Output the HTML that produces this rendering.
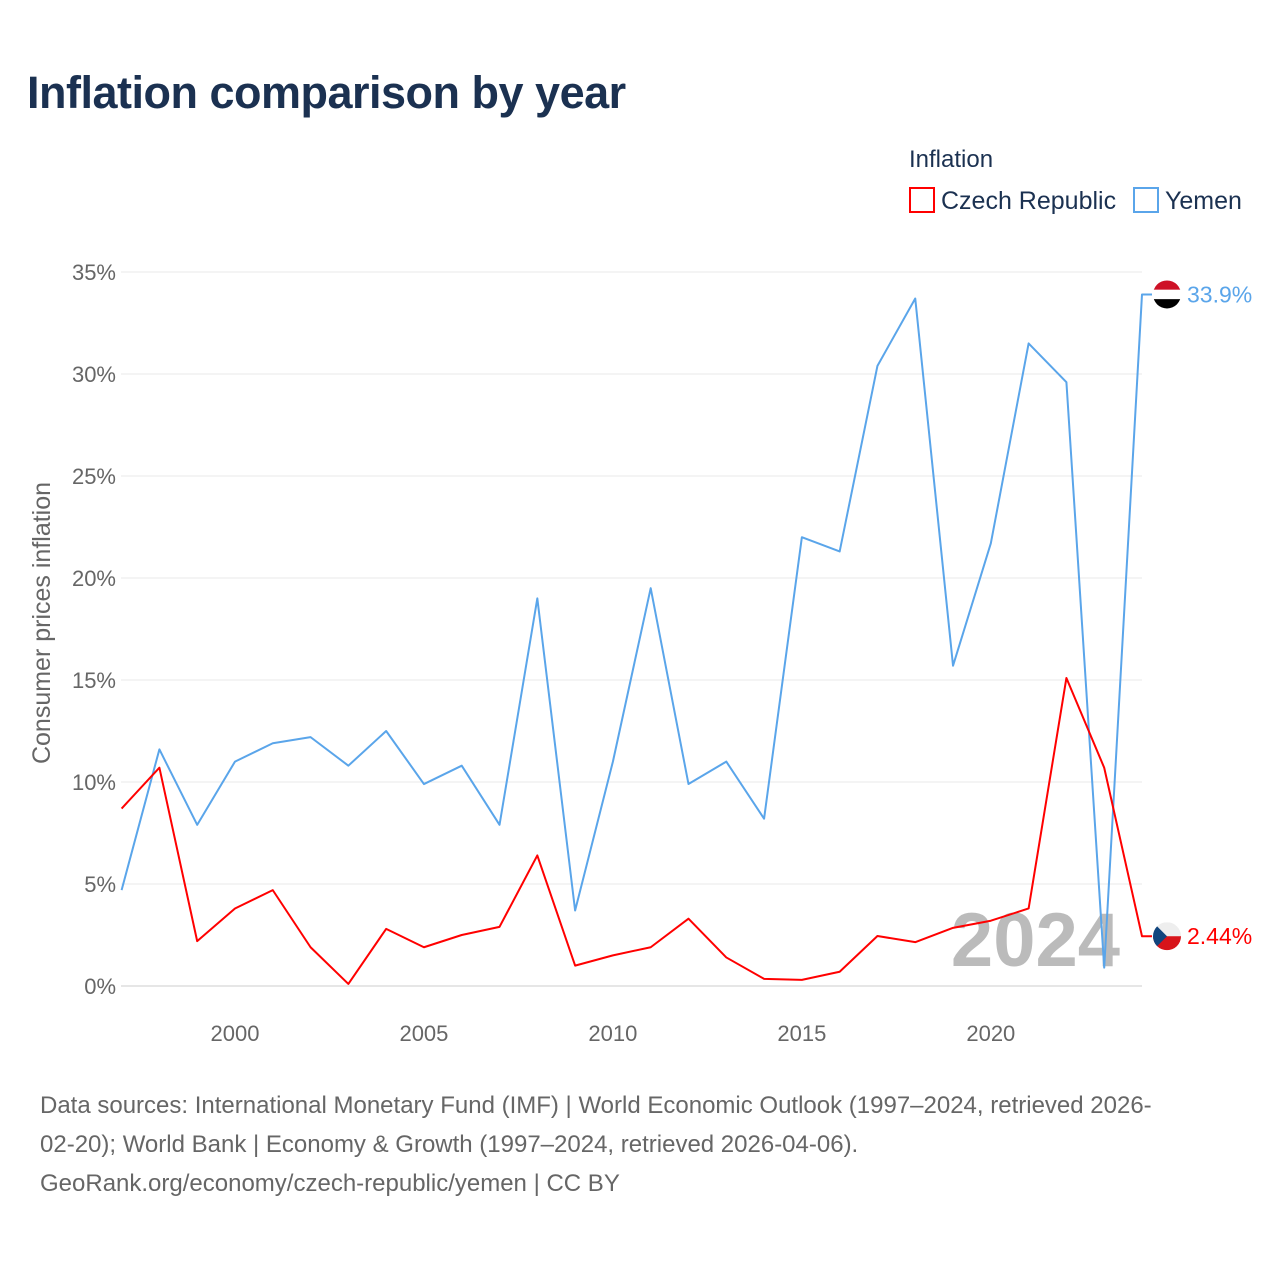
<!DOCTYPE html>
<html><head><meta charset="utf-8">
<style>
body{margin:0;background:#fff;font-family:"Liberation Sans",sans-serif;}
#wrap{position:relative;width:1280px;height:1280px;overflow:hidden;}
h1{position:absolute;left:27px;top:67px;margin:0;font-size:45px;font-weight:bold;color:#1b3151;letter-spacing:-0.5px;}
.src{position:absolute;left:40px;top:1086px;width:1230px;font-size:24px;line-height:39px;color:#666;white-space:nowrap;}
</style></head>
<body>
<div id="wrap">
<h1>Inflation comparison by year</h1>
<svg id="chart" width="1280" height="1280" style="position:absolute;left:0;top:0"></svg>
<div class="src">Data sources: International Monetary Fund (IMF) | World Economic Outlook (1997–2024, retrieved 2026-<br>02-20); World Bank | Economy &amp; Growth (1997–2024, retrieved 2026-04-06).<br>GeoRank.org/economy/czech-republic/yemen | CC BY</div>
</div>
<script>
const years=[1997,1998,1999,2000,2001,2002,2003,2004,2005,2006,2007,2008,2009,2010,2011,2012,2013,2014,2015,2016,2017,2018,2019,2020,2021,2022,2023,2024];
const yemenValues=[4.7,11.6,7.9,11.0,11.9,12.2,10.8,12.5,9.9,10.8,7.9,19.0,3.7,11.0,19.5,9.9,11.0,8.2,22.0,21.3,30.4,33.7,15.7,21.7,31.5,29.6,0.9,33.9];
const czechValues=[8.7,10.7,2.2,3.8,4.7,1.9,0.1,2.8,1.9,2.5,2.9,6.4,1.0,1.5,1.9,3.3,1.4,0.35,0.3,0.7,2.45,2.15,2.85,3.2,3.8,15.1,10.7,2.44];
const yTicks=[0,5,10,15,20,25,30,35];
const xTicks=[2000,2005,2010,2015,2020];
const NS="http://www.w3.org/2000/svg";
const svg=document.getElementById('chart');
const X=y=>121.6+(y-1997)*(1142-121.6)/27;
const Y=v=>986-v*20.4;
function mk(t,a,txt){const e=document.createElementNS(NS,t);for(const k in a)e.setAttribute(k,a[k]);if(txt!==undefined)e.textContent=txt;svg.appendChild(e);return e;}
yTicks.forEach(v=>{
 const l=mk('line',{x1:121,x2:1142,y1:Y(v),y2:Y(v),stroke:v===0?'#ccc':'#e8e8e8','stroke-width':1});
 
 
 const t=mk('text',{x:116,y:Y(v)+8,'text-anchor':'end','font-size':22,fill:'#666'},v+'%');
 
 
});
xTicks.forEach(y=>{
 const t=mk('text',{x:X(y),y:1041,'text-anchor':'middle','font-size':22,fill:'#666'},y);
 
 
});
const yt=mk('text',{x:0,y:0,transform:'translate(50,623) rotate(-90)','text-anchor':'middle','font-size':25,fill:'#666'},'Consumer prices inflation');


const wm=mk('text',{x:1120,y:966,'text-anchor':'end','font-size':76,'font-weight':'bold',fill:'#bbb'},'2024');


function series(vals,color,name){
 let d=vals.map((v,i)=>(i?'L':'M')+X(years[i])+','+Y(v)).join(' ');
 d+=' L1152,'+Y(vals[vals.length-1]);
 const p=mk('path',{d:d,fill:'none',stroke:color,'stroke-width':2,'stroke-linejoin':'round'});
 
 
}
series(yemenValues,'#5aa5ea','yemen');
series(czechValues,'#ff0000','czech');
const yy=Y(yemenValues[27]);
const cy=Y(czechValues[27]);
const defs=mk('defs',{});
defs.innerHTML=`<clipPath id="cf1"><circle cx="1167" cy="${yy}" r="14"/></clipPath><clipPath id="cf2"><circle cx="1167" cy="${cy}" r="14"/></clipPath>`;
const f1=mk('g',{'clip-path':'url(#cf1)'});


f1.innerHTML=`<rect x="1153" y="${yy-14}" width="28" height="9.4" fill="#ce1126"/><rect x="1153" y="${yy-4.7}" width="28" height="9.4" fill="#fff"/><rect x="1153" y="${yy+4.7}" width="28" height="9.4" fill="#000"/>`;
const f2=mk('g',{'clip-path':'url(#cf2)'});


f2.innerHTML=`<rect x="1153" y="${cy-14}" width="28" height="14" fill="#eee"/><rect x="1153" y="${cy}" width="28" height="14" fill="#d7141a"/><path d="M1153,${cy-14} L1167,${cy} L1153,${cy+14}z" fill="#11457e"/>`;
const l1=mk('text',{x:1187,y:yy+8,'font-size':23,fill:'#5aa5ea'},yemenValues[27]+'%');


const l2=mk('text',{x:1187,y:cy+8,'font-size':23,fill:'#ff0000'},czechValues[27]+'%');


const lt=mk('text',{x:909,y:167,'font-size':24,fill:'#1b3151'},'Inflation');


const g1=mk('g',{});


g1.innerHTML='<rect x="910" y="188" width="24" height="24" fill="none" stroke="#ff0000" stroke-width="2"/><text x="941" y="209" font-size="25" fill="#1b3151">Czech Republic</text>';
const g2=mk('g',{});


g2.innerHTML='<rect x="1134" y="188" width="24" height="24" fill="none" stroke="#5aa5ea" stroke-width="2"/><text x="1165" y="209" font-size="25" fill="#1b3151">Yemen</text>';
</script>
</body></html>
